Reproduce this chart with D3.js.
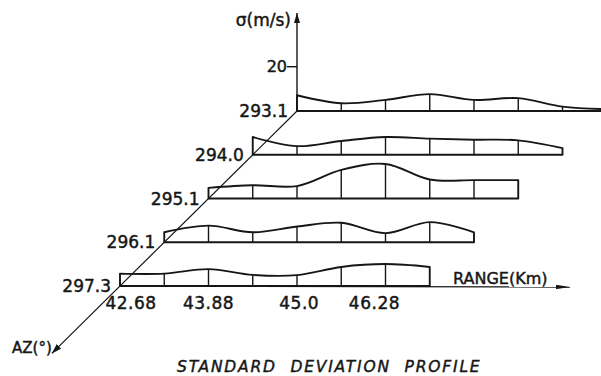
<!DOCTYPE html>
<html>
<head>
<meta charset="utf-8">
<script src="https://cdn.jsdelivr.net/npm/d3@7"></script>
<style>
  body { margin: 0; background: #fff; }
  svg { display: block; font-family: "DejaVu Sans", sans-serif; }
  svg text { stroke: #161616; stroke-width: 0.45px; }
</style>
</head>
<body>
<script>
// azimuth rows, back to front
const azLabels = ["293.1", "294.0", "295.1", "296.1", "297.3"];
// range tick labels and where they sit (in cell units from the front row start)
const rangeTicks = ["42.68", "43.88", "45.0", "46.28"];
const rangeTickCell = [0.25, 2, 4.05, 5.75];
const sigmaTicks = [20];

// sigma (m/s) at each range cell boundary, per azimuth
const az293_1 = [7.1, 3.5, 5.0, 7.6, 5.0, 5.8, 2.0, 0.8];
const az294_0 = [8.0, 3.9, 6.2, 8.0, 7.3, 6.8, 6.5, 3.0];
const az295_1 = [4.8, 6.0, 5.6, 12.9, 15.6, 8.6, 8.3, 8.3];
const az296_1 = [4.5, 7.5, 4.5, 7.1, 8.8, 4.1, 9.1, 4.5];
const az297_3 = [5.6, 5.6, 7.6, 5.0, 4.9, 8.6, 9.9, 8.6];
const profiles = [az293_1, az294_0, az295_1, az296_1, az297_3];

const W = 601, H = 376;
const ink = "#161616";

const svg = d3.select("body").append("svg")
    .attr("width", W)
    .attr("height", H);

const defs = svg.append("defs");
const arrow = (id, len, half) => {
    defs.append("marker")
        .attr("id", id)
        .attr("markerUnits", "userSpaceOnUse")
        .attr("viewBox", `0 ${-half} ${len} ${half * 2}`)
        .attr("refX", len)
        .attr("refY", 0)
        .attr("markerWidth", len)
        .attr("markerHeight", half * 2)
        .attr("orient", "auto")
        .append("path")
        .attr("d", `M0,${-half}L${len},0L0,${half}Z`)
        .attr("fill", ink);
};
arrow("arrSig", 10, 3);
arrow("arrAz", 10, 3.2);
arrow("arrRange", 14, 2.2);

// pseudo-3d projection: corner of the back row, and the depth vector across all rows
const origin = { x: 297, y: 111 };
const depth = { x: -177, y: 175 };

const az = d3.scalePoint().domain(azLabels).range([0, 1]);
const x = d3.scaleLinear().domain([0, 1]).range([0, 44.25]);
const y = d3.scaleLinear().domain([0, 20]).range([0, 44.3]);

const px = (t, i) => origin.x + t * depth.x + x(i);
const py = (t, v) => origin.y + t * depth.y - y(v);

// profiles
const g = svg.append("g");
profiles.forEach((vals, r) => {
    const t = az(azLabels[r]);
    const area = d3.area()
        .x((d, i) => px(t, i))
        .y0(py(t, 0))
        .y1(d => py(t, d))
        .curve(d3.curveCatmullRom.alpha(0.5));

    g.append("path")
        .attr("d", area(vals))
        .attr("fill", "none")
        .attr("stroke", ink)
        .attr("stroke-width", 1.9)
        .attr("stroke-linejoin", "round");

    g.selectAll(null)
        .data(vals.slice(1, -1))
        .join("line")
        .attr("x1", (d, i) => px(t, i + 1))
        .attr("x2", (d, i) => px(t, i + 1))
        .attr("y1", py(t, 0))
        .attr("y2", d => py(t, d))
        .attr("stroke", ink)
        .attr("stroke-width", 1.4);

    svg.append("text")
        .attr("x", px(t, 0) - 9)
        .attr("y", py(t, 0))
        .attr("dy", "0.36em")
        .attr("text-anchor", "end")
        .attr("font-size", 17)
        .attr("fill", ink)
        .text(azLabels[r]);
});

// sigma axis
svg.append("line")
    .attr("x1", px(0, 0)).attr("y1", py(0, 0))
    .attr("x2", px(0, 0)).attr("y2", py(0, 44.3))
    .attr("stroke", ink).attr("stroke-width", 1.4)
    .attr("marker-end", "url(#arrSig)");

sigmaTicks.forEach(v => {
    svg.append("line")
        .attr("x1", px(0, 0) - 10).attr("x2", px(0, 0))
        .attr("y1", py(0, v)).attr("y2", py(0, v))
        .attr("stroke", ink).attr("stroke-width", 1.4);
    svg.append("text")
        .attr("x", px(0, 0) - 10)
        .attr("y", py(0, v))
        .attr("dy", "0.36em")
        .attr("text-anchor", "end")
        .attr("font-size", 16)
        .attr("fill", ink)
        .text(v);
});

svg.append("text")
    .attr("x", px(0, 0) - 6)
    .attr("y", 26)
    .attr("text-anchor", "end")
    .attr("font-size", 17)
    .attr("fill", ink)
    .text("\u03C3(m/s)");

// azimuth axis, running out past the front row
const azEnd = 1.385;
svg.append("line")
    .attr("x1", px(0, 0)).attr("y1", py(0, 0))
    .attr("x2", px(azEnd, 0)).attr("y2", py(azEnd, 0))
    .attr("stroke", ink).attr("stroke-width", 1.2)
    .attr("marker-end", "url(#arrAz)");

svg.append("text")
    .attr("x", 12)
    .attr("y", 353)
    .attr("font-size", 15)
    .attr("fill", ink)
    .text("AZ(\u00B0)");

// range axis under the front row
const tf = az(azLabels[azLabels.length - 1]);
svg.append("line")
    .attr("x1", px(tf, 0)).attr("y1", py(tf, 0))
    .attr("x2", px(tf, 10.17)).attr("y2", py(tf, 0) + 1)
    .attr("stroke", ink).attr("stroke-width", 1.3)
    .attr("marker-end", "url(#arrRange)");

svg.selectAll(".rtick")
    .data(rangeTicks)
    .join("text")
    .attr("class", "rtick")
    .attr("x", (d, i) => px(tf, rangeTickCell[i]))
    .attr("y", py(tf, 0) + 23)
    .attr("text-anchor", "middle")
    .attr("font-size", 17)
    .attr("letter-spacing", 0.5)
    .attr("fill", ink)
    .text(d => d);

svg.append("text")
    .attr("x", 453)
    .attr("y", 284)
    .attr("font-size", 16)
    .attr("fill", ink)
    .text("RANGE(Km)");

// title
svg.append("text")
    .attr("x", 177)
    .attr("y", 372)
    .attr("font-size", 15.5)
    .attr("font-style", "italic")
    .attr("letter-spacing", 1.8)
    .attr("word-spacing", 7)
    .attr("fill", ink)
    .text("STANDARD DEVIATION PROFILE");
</script>
</body>
</html>
